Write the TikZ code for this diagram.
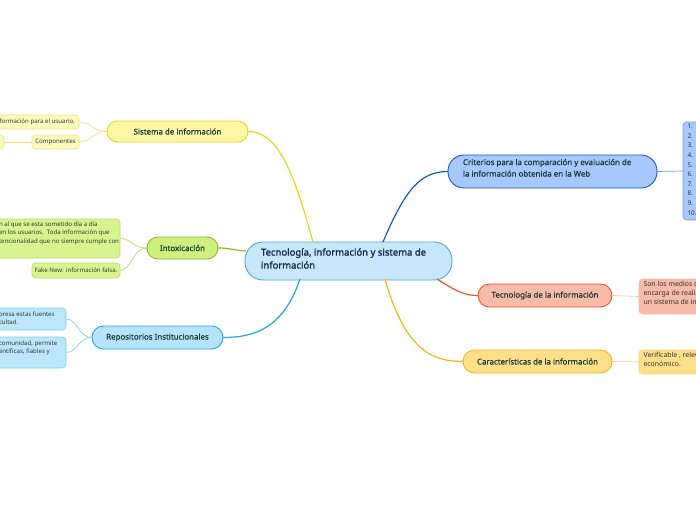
\documentclass[tikz,border=0pt]{standalone}
\usepackage{fontspec}
\setmainfont{Noto Sans}
\newfontfamily\cenfont[FakeBold=1.6]{Noto Sans}
\newfontfamily\topfont[FakeBold=0.6]{Noto Sans}
\begin{document}
\begin{tikzpicture}[x=1pt,y=-1pt,
  every node/.style={inner sep=0pt, outer sep=0pt},
  topic/.style={rounded corners=#1, line width=0.9pt, font=\topfont\fontsize{7.9}{9}\selectfont, text=cTopicText, align=center},
  sub/.style={rounded corners=3.5pt, line width=0.6pt},
  subtext/.style={font=\fontsize{6.1}{8.6}\selectfont, text=cSubText, align=left},
  subtextR/.style={font=\fontsize{6.9}{8.8}\selectfont, text=cSubText, align=left},
  mainconn/.style={line width=1.2pt},
  thinconn/.style={line width=0.7pt}
]
\definecolor{cCentralText}{HTML}{162B4D}
\definecolor{cTopicText}{HTML}{153A36}
\definecolor{cSubText}{HTML}{2A3A33}
\definecolor{cCenFill}{HTML}{C6E8FA}\definecolor{cCenLine}{HTML}{4EA6DC}
\definecolor{cYelFill}{HTML}{FFF7A6}\definecolor{cYelLine}{HTML}{F0D418}
\definecolor{cYelSubF}{HTML}{FFF9BE}\definecolor{cYelSubL}{HTML}{F3E07A}
\definecolor{cGrnFill}{HTML}{D0F07E}\definecolor{cGrnLine}{HTML}{86BE2C}
\definecolor{cGrnSubF}{HTML}{D8F48E}\definecolor{cGrnSubL}{HTML}{B4DE66}
\definecolor{cCyaFill}{HTML}{B5E3FA}\definecolor{cCyaLine}{HTML}{23A8E4}
\definecolor{cCyaSubF}{HTML}{BDE6FA}\definecolor{cCyaSubL}{HTML}{7FCFF2}
\definecolor{cBluFill}{HTML}{A7C8FC}\definecolor{cBluLine}{HTML}{1659C6}
\definecolor{cBluSubF}{HTML}{A9C9FC}\definecolor{cBluSubL}{HTML}{6F9EE6}
\definecolor{cRedFill}{HTML}{F8BAA9}\definecolor{cRedLine}{HTML}{F0552A}
\definecolor{cRedSubF}{HTML}{F8BAA9}\definecolor{cRedSubL}{HTML}{F6C3B4}
\definecolor{cOrFill}{HTML}{FFE08A}\definecolor{cOrLine}{HTML}{F8B712}
\definecolor{cOrSubF}{HTML}{FFE08A}\definecolor{cOrSubL}{HTML}{FBD47A}

\useasboundingbox[fill=white] (0,0) rectangle (696,520);

% ---------- connector end points on the central node ----------
\coordinate (cYel) at (313,242);
\coordinate (cGrn) at (246,251);
\coordinate (cCya) at (300,279);
\coordinate (cBlu) at (383,242);
\coordinate (cRed) at (437,279);
\coordinate (cOr)  at (385,279);

% ---------- central node ----------
\node[draw=cCenLine, fill=cCenFill, line width=0.9pt, rounded corners=18pt,
      minimum width=207pt, minimum height=38pt] (central) at (348.5,261) {};
\node[anchor=north west, align=left, text=cCentralText,
      font=\cenfont\fontsize{9.5}{13}\selectfont] (centraltxt) at (261,248.3)
      {Tecnología, información y sistema de\\información};

% ---------- topics ----------
\node[topic=10.5pt, draw=cYelLine, fill=cYelFill, minimum width=141pt, minimum height=21pt] (sis) at (177.5,131.5) {Sistema de información};
\node[topic=11pt, draw=cGrnLine, fill=cGrnFill, minimum width=71pt, minimum height=22pt] (int) at (182.5,248) {Intoxicación};
\node[topic=11.5pt, draw=cCyaLine, fill=cCyaFill, minimum width=131pt, minimum height=23pt] (rep) at (157.5,337.5) {Repositorios Institucionales};
\node[topic=16pt, draw=cBluLine, fill=cBluFill, minimum width=209pt, minimum height=33pt] (cri) at (552.5,171.5) {};
\node[anchor=north west, align=left, text=cTopicText, font=\topfont\fontsize{7.9}{11.5}\selectfont] (critxt) at (463,159)
      {Criterios para la comparación y evaluación de\\la información obtenida en la Web};
\node[topic=11.5pt, draw=cRedLine, fill=cRedFill, minimum width=134pt, minimum height=23pt] (tec) at (545,295.5) {Tecnología de la información};
\node[topic=11.5pt, draw=cOrLine, fill=cOrFill, minimum width=149pt, minimum height=23pt] (car) at (537.5,361.5) {Características de la información};

% ---------- sub boxes ----------
\node[sub, draw=cYelSubL, fill=cYelSubF, minimum width=100pt, minimum height=14pt] (s1) at (29,122) {};
\node[subtext, anchor=east] (s1t) at (75,122) {nformación para el usuario,};
\node[sub, draw=cYelSubL, fill=cYelSubF, minimum width=47pt, minimum height=14pt] (comp) at (55.5,142) {};
\node[subtext] (compt) at (55.5,142) {Componentes};
\node[sub, draw=cYelSubL, fill=cYelSubF, minimum width=24pt, minimum height=14pt] (s2) at (-8,142) {};

\node[sub, draw=cGrnSubL, fill=cGrnSubF, minimum width=150pt, minimum height=39pt] (i1) at (45,238.5) {};
\node[subtext, anchor=north west] (i1t) at (-1,221.5)
  {n al que se esta sometido día a día\\en los usuarios.\ \ Toda información que\\tencionalidad que no siempre cumple con};
\node[sub, draw=cGrnSubL, fill=cGrnSubF, minimum width=88pt, minimum height=15pt] (fake) at (76,270.5) {};
\node[subtext] (faket) at (76,270.5) {Fake New: información falsa.};

\node[sub, draw=cCyaSubL, fill=cCyaSubF, minimum width=96pt, minimum height=22pt] (r1) at (18,319) {};
\node[subtext, anchor=north west] (r1t) at (-1,311.5) {oresa estas fuentes\\cultad.};
\node[sub, draw=cCyaSubL, fill=cCyaSubF, minimum width=96pt, minimum height=31pt] (r2) at (18,352.5) {};
\node[subtext, anchor=north west] (r2t) at (-1,340.5) {comunidad, permite\\entíficas, fiables y};

\node[sub, draw=cBluSubL, fill=cBluSubF, minimum width=40pt, minimum height=98pt] (list) at (703,171) {};
\node[subtext, anchor=north west, font=\fontsize{6.5}{9.6}\selectfont] (listt) at (687.5,124)
  {1.\\2.\\3.\\4.\\5.\\6.\\7.\\8.\\9.\\10.};

\node[sub, draw=cRedSubL, fill=cRedSubF, minimum width=80pt, minimum height=35pt] (t1) at (679,296.5) {};
\node[subtextR, anchor=north west] (t1t) at (643.5,281.5) {Son los medios de\\encarga de realiz\\un sistema de inf};

\node[sub, draw=cOrSubL, fill=cOrSubF, minimum width=80pt, minimum height=24pt] (c1) at (679,362) {};
\node[subtextR, anchor=north west] (c1t) at (643.5,352) {Verificable , relev\\económico.};

% ---------- main connectors ----------
\draw[mainconn, cYelLine] (cYel) .. controls (292,165) and (276,131.5) .. (sis.east);
\draw[mainconn, cGrnLine] (cGrn) .. controls (232,250) and (230,248) .. (int.east);
\draw[mainconn, cCyaLine] (cCya) .. controls (283,330) and (252,337.5) .. (rep.east);
\draw[mainconn, cBluLine] (cBlu) .. controls (405,190) and (420,171.5) .. (cri.west);
\draw[mainconn, cRedLine] (cRed) .. controls (456,291) and (464,295.5) .. (tec.west);
\draw[mainconn, cOrLine] (cOr) .. controls (405,350) and (432,361.5) .. (car.west);

% ---------- thin connectors ----------
\draw[thinconn, cYelSubL] (sis.west) .. controls (92,131.5) and (92,122) .. (s1.east);
\draw[thinconn, cYelSubL] (sis.west) .. controls (92,131.5) and (92,142) .. (comp.east);
\draw[thinconn, cYelSubL] (comp.west) -- (s2.east);
\draw[thinconn, cGrnSubL] (int.west) .. controls (132,248) and (132,238.5) .. (i1.east);
\draw[thinconn, cGrnSubL] (int.west) .. controls (132,248) and (132,270.5) .. (fake.east);
\draw[thinconn, cCyaSubL] (rep.west) .. controls (78,337.5) and (78,319) .. (r1.east);
\draw[thinconn, cCyaSubL] (rep.west) .. controls (78,337.5) and (78,352.5) .. (r2.east);
\draw[thinconn, cBluSubL] (cri.east) -- (list.west);
\draw[thinconn, cRedSubL] (tec.east) -- (t1.west);
\draw[thinconn, cOrSubL] (car.east) -- (c1.west);
\end{tikzpicture}
\end{document}
